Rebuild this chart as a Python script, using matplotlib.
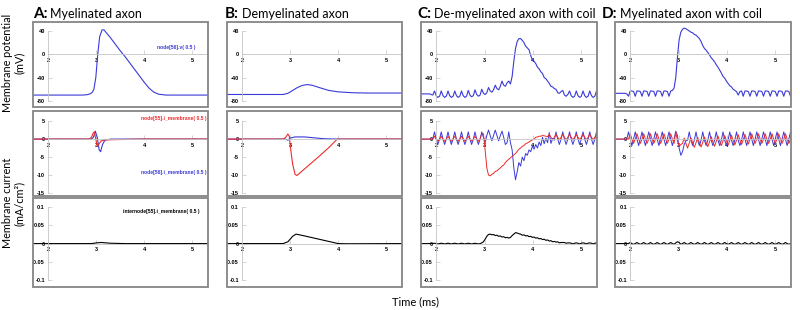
import numpy as np
import matplotlib
matplotlib.use("Agg")
import matplotlib.pyplot as plt
from matplotlib.patches import Rectangle

# ---------------- data ----------------
# Panel A (myelinated axon): time (ms) / value pairs
a_v_t = [1.68, 2.70, 2.80, 2.87, 2.92, 2.95, 2.99, 3.03, 3.07, 3.12, 3.16, 3.20, 3.30, 3.40,
         3.50, 3.60, 3.70, 3.80, 3.90, 4.00, 4.10, 4.20, 4.30, 4.45, 5.33]
a_v = [-70, -70, -69.5, -68, -65, -60, -40, 0, 30, 42, 42, 38, 28, 17,
       6, -4, -15, -26, -37, -48, -58, -65, -68.5, -70, -70]

a_i55_t = [1.68, 2.85, 2.90, 2.94, 2.96, 2.99, 3.02, 3.05, 3.10, 3.20, 3.60, 4.00, 5.33]
a_i55 = [0, 0, 0.5, 1.8, 2.0, 0, -2.0, -1.5, -0.5, -0.2, -0.1, 0, 0]
a_i56_t = [1.68, 2.90, 2.94, 2.98, 3.02, 3.06, 3.09, 3.13, 3.18, 3.30, 5.33]
a_i56 = [0, 0, 0.5, 2.2, 0.5, -3.0, -3.5, -1.5, -0.3, 0, 0]
a_inter_t = [1.68, 2.90, 3.00, 3.10, 3.30, 3.60, 5.33]
a_inter = [0, 0, 0.002, 0.003, 0.001, 0, 0]

# Panel B (demyelinated axon)
b_v_t = [1.68, 2.85, 2.95, 3.05, 3.15, 3.25, 3.35, 3.45, 3.60, 3.80, 4.00, 4.30, 4.60, 5.33]
b_v = [-69, -69, -67, -62, -57, -53.5, -52, -53, -57, -62, -64.5, -66, -66.5, -66.5]

b_i55_t = [1.68, 2.85, 2.90, 2.95, 2.98, 3.00, 3.05, 3.10, 3.14, 3.20, 3.40, 3.60, 3.80, 3.98, 5.33]
b_i55 = [0, 0, 0.4, 1.4, 0.8, -2, -7, -9.8, -10.1, -9.4, -7.1, -4.8, -2.4, 0, 0]
b_i56_t = [1.68, 2.90, 2.95, 3.00, 3.10, 3.30, 3.50, 3.70, 4.00, 5.33]
b_i56 = [0, 0, -0.3, 0.3, 0.6, 0.6, 0.35, 0.1, 0, 0]
b_inter_t = [1.68, 2.85, 2.95, 3.05, 3.12, 3.30, 3.50, 3.70, 3.90, 4.00, 4.20, 5.33]
b_inter = [0, 0, 0.005, 0.02, 0.026, 0.021, 0.015, 0.009, 0.003, 0, -0.0005, 0]

# Panels C and D (with coil): sampled every 0.035 ms from 1.68 ms,
# one row = one period of the coil ripple
coil_t0 = 1.68
coil_dt = 0.035

c_v = [-68, -68, -68, -68,
       -68, -68, -69, -70,
       -63, -71, -74, -72,
       -63, -71, -74, -72,
       -63, -71, -74, -72,
       -63, -71, -74, -72,
       -63, -71, -74, -72,
       -62, -70, -73, -71,
       -61, -69, -72, -70,
       -60, -67, -69, -66,
       -57, -63, -65, -61,
       -53, -59, -61, -55,
       -46, -53, -55, -49,
       -46, -51, -38, -12,
       10, 22, 27, 27,
       24, 20, 14, 11,
       8, -2, -10, -12,
       -16, -22, -25, -30,
       -33, -40, -42, -46,
       -50, -55, -56, -59,
       -60, -66, -67, -64,
       -62, -70, -72, -69,
       -63, -71, -74, -72,
       -63, -71, -74, -72,
       -63, -71, -74, -72,
       -63, -71, -74, -72,
       -63, -71, -74, -72]

c_i55 = [0, 0, 0, 0,
         0, 0, 0, 0,
         0.8, 0, -0.6, 0,
         0.8, 0, -0.6, 0,
         0.8, 0, -0.6, 0,
         0.8, 0, -0.6, 0,
         0.8, 0, -0.6, 0,
         0.8, 0, -0.6, 0,
         0.8, 0, -0.6, 0,
         1.4, 1.5, -3, -8,
         -10, -10.2, -9.8, -9.5,
         -9, -8.8, -8.4, -8,
         -7.5, -7.2, -6.5, -6,
         -5.6, -5.2, -4.8, -4.4,
         -4, -3.4, -2.8, -2.5,
         -2, -1.8, -1.3, -1.1,
         -0.8, -0.5, -0.2, 0,
         0.5, 0.6, 0.8, 0.8,
         1.0, 0.9, 0.8, 0.7,
         1.3, 0.5, -0.2, 0.5,
         1.3, 0.5, -0.2, 0.5,
         1.3, 0.5, -0.2, 0.5,
         1.3, 0.5, -0.2, 0.5,
         1.3, 0.5, -0.2, 0.5,
         1.3, 0.5, -0.2, 0.5,
         1.3, 0.5, -0.2, 0.5,
         1.3, 0.5, -0.2, 0.5]

c_i56 = [0, 0, 0, 0,
         0, 0, 0, 0,
         2, 0, -1.5, 0,
         2, 0, -1.5, 0,
         2, 0, -1.5, 0,
         2, 0, -1.5, 0,
         2, 0, -1.5, 0,
         2, 0, -1.5, 0,
         2, 0, -1.5, 0,
         2, 0.5, -1, 1,
         2.5, 1, -0.5, 1,
         2.5, 1, -0.5, 1,
         2.2, 0.5, -1.5, -1,
         2, -1, -3, -8,
         -11.3, -9, -6.5, -7.5,
         -5, -6, -4, -4.5,
         -3, -3.5, -2, -2.8,
         -1.5, -2.5, -0.8, -1.8,
         0.5, -1.3, 0.3, -1,
         1.8, -1.2, 0.2, -0.3,
         2, 0, -1.5, 0,
         2, 0, -1.5, 0,
         2, 0, -1.5, 0,
         2, 0, -1.5, 0,
         2, 0, -1.5, 0,
         2, 0, -1.5, 0,
         2, 0, -1.5, 0]

c_inter = [0, 0, 0, 0,
           0, 0, 0, 0,
           0.001, 0, -0.001, 0,
           0.001, 0, -0.001, 0,
           0.001, 0, -0.001, 0,
           0.001, 0, -0.001, 0,
           0.001, 0, -0.001, 0,
           0.001, 0, -0.001, 0,
           0.001, 0, -0.001, 0,
           0.002, 0.005, 0.012, 0.020,
           0.025, 0.026, 0.024, 0.025,
           0.022, 0.023, 0.020, 0.021,
           0.018, 0.019, 0.016, 0.017,
           0.015, 0.017, 0.022, 0.026,
           0.030, 0.029, 0.027, 0.026,
           0.023, 0.024, 0.021, 0.022,
           0.019, 0.020, 0.017, 0.018,
           0.015, 0.016, 0.013, 0.014,
           0.011, 0.012, 0.009, 0.010,
           0.007, 0.008, 0.005, 0.006,
           0.004, 0.005, 0.002, 0.003,
           0.003, 0.003, 0.001, 0.002,
           0.002, 0.001, -0.001, 0.001,
           0.002, 0.001, -0.001, 0.001,
           0.002, 0.001, -0.001, 0.001,
           0.002, 0.001, -0.001, 0.001,
           0.002, 0.001, -0.001, 0.001]

d_v = [-67, -67, -67, -67,
       -67, -67, -67, -68,
       -72, -63, -63, -64,
       -72, -63, -63, -64,
       -72, -63, -63, -64,
       -72, -63, -63, -64,
       -72, -63, -63, -64,
       -72, -63, -63, -64,
       -72, -63, -62, -58,
       -40, -5, 25, 38,
       43, 45, 44, 42,
       40, 38, 37, 34,
       33, 30, 27, 22,
       15, 10, 7, 3,
       -1, -6, -9, -13,
       -18, -22, -27, -32,
       -38, -41, -46, -50,
       -54, -56, -60, -62,
       -64, -70, -64, -63,
       -72, -63, -63, -64,
       -72, -63, -63, -64,
       -72, -63, -63, -64,
       -72, -63, -63, -64,
       -72, -63, -63, -64,
       -72, -63, -63, -64,
       -72, -63, -63, -64,
       -72, -63, -63, -64]

d_i55 = [0, 0, 0, 0,
         0, 0, 0, 0,
         0, 1.5, 0, -1.2,
         0, 1.5, 0, -1.2,
         0, 1.5, 0, -1.2,
         0, 1.5, 0, -1.2,
         0, 1.5, 0, -1.2,
         0, 1.5, 0, -1.2,
         0, 1.5, 0, -1.2,
         2, -0.5, -2, -1.5,
         -1.2, 0.3, -1.2, -2.5,
         -1.1, 0.4, -1.1, -2.3,
         -1.0, 0.5, -1.0, -2.2,
         -0.9, 0.6, -0.9, -2.1,
         -0.8, 0.7, -0.8, -2.0,
         -0.6, 0.9, -0.6, -1.8,
         -0.5, 1.0, -0.5, -1.7,
         -0.4, 1.1, -0.4, -1.6,
         -0.3, 1.2, -0.3, -1.5,
         -0.2, 1.3, -0.2, -1.4,
         0, 1.5, 0, -1.2,
         0, 1.5, 0, -1.2,
         0, 1.5, 0, -1.2,
         0, 1.5, 0, -1.2,
         0, 1.5, 0, -1.2,
         0, 1.5, 0, -1.2,
         0, 1.5, 0, -1.2]

d_i56 = [0, 0, 0, 0,
         0, 0, 0, 0,
         2, 0, -1.8, 0,
         2, 0, -1.8, 0,
         2, 0, -1.8, 0,
         2, 0, -1.8, 0,
         2, 0, -1.8, 0,
         2, 0, -1.8, 0,
         2, 0, -1.8, 0,
         2.2, 1, -2.5, -4.5,
         -3.5, -1.5, -0.5, -0.3,
         2, -0.3, -1.8, -0.3,
         2, -0.3, -1.8, -0.3,
         2, -0.3, -1.8, -0.3,
         2, -0.3, -1.8, -0.3,
         2, -0.3, -1.8, -0.3,
         2, -0.3, -1.8, -0.3,
         2, -0.3, -1.8, -0.3,
         2, -0.3, -1.8, -0.3,
         2, 0, -1.8, 0,
         2, 0, -1.8, 0,
         2, 0, -1.8, 0,
         2, 0, -1.8, 0,
         2, 0, -1.8, 0,
         2, 0, -1.8, 0,
         2, 0, -1.8, 0,
         2, 0, -1.8, 0]

d_inter = [0, 0, 0, 0,
           0, 0, 0, 0,
           0, 0.003, 0, -0.002,
           0, 0.003, 0, -0.002,
           0, 0.003, 0, -0.002,
           0, 0.003, 0, -0.002,
           0, 0.003, 0, -0.002,
           0, 0.003, 0, -0.002,
           0, 0.003, 0, -0.002,
           0.002, 0.005, 0.003, -0.002,
           0, 0.003, 0, -0.002,
           0, 0.003, 0, -0.002,
           0, 0.003, 0, -0.002,
           0, 0.003, 0, -0.002,
           0, 0.003, 0, -0.002,
           0, 0.003, 0, -0.002,
           0, 0.003, 0, -0.002,
           0, 0.003, 0, -0.002,
           0, 0.003, 0, -0.002,
           0, 0.003, 0, -0.002,
           0, 0.003, 0, -0.002,
           0, 0.003, 0, -0.002,
           0, 0.003, 0, -0.002,
           0, 0.003, 0, -0.002,
           0, 0.003, 0, -0.002,
           0, 0.003, 0, -0.002,
           0, 0.003, 0, -0.002]

panel_letters = ["A:", "B:", "C:", "D:"]
panel_titles = ["Myelinated axon", "Demyelinated axon",
                "De-myelinated axon with coil", "Myelinated axon with coil"]

x_ticks = [2, 3, 4, 5]
v_ticks = [-80, -40, 0, 40]
i_ticks = [-15, -10, -5, 0, 5]
inter_ticks = [-0.1, -0.05, 0, 0.05, 0.1]
inter_tick_labels = ["-0.1", "-0.05", "0", "0.05", "0.1"]

# ---------------- styling ----------------
BLUE = "#3a3ad8"
RED = "#ee2b2b"
AXIS = "#c4c4c4"
FRAME = "#858585"
title_font = "Lato"
tick_font = "Liberation Sans"

W, H = 800, 310
fig = plt.figure(figsize=(W / 100, H / 100), dpi=100)

panel_x = [(33, 208), (227, 402), (421, 597), (615, 791)]
row_y = [(22, 107), (111, 196), (198, 287)]
row_ylim = [(-90.5, 55.5), (-15.8, 7.8), (-0.119, 0.125)]
title_x = [33, 225, 417, 602]


def make_axes(px, py):
    left = px[0] / W
    bottom = 1 - py[1] / H
    return fig.add_axes([left, bottom, (px[1] - px[0]) / W, (py[1] - py[0]) / H])


def style_axes(ax, yticks, ylabels, ylim):
    ax.set_xlim(1.68, 5.33)
    ax.set_ylim(*ylim)
    ax.spines["top"].set_visible(False)
    ax.spines["right"].set_visible(False)
    ax.spines["left"].set_position(("data", 2))
    ax.spines["bottom"].set_position(("data", 0))
    ax.spines["left"].set_bounds(min(yticks), max(yticks))
    ax.spines["bottom"].set_bounds(2, 5.33)
    for s in ["left", "bottom"]:
        ax.spines[s].set_color(AXIS)
        ax.spines[s].set_linewidth(0.6)
    ax.set_xticks(x_ticks)
    ax.set_xticklabels([str(t) for t in x_ticks])
    ax.set_yticks(yticks)
    ax.set_yticklabels(ylabels)
    ax.tick_params(direction="in", length=3, width=0.5, color=AXIS,
                   labelsize=4, pad=2.5)
    for lab in ax.get_xticklabels() + ax.get_yticklabels():
        lab.set_fontfamily(tick_font)
        lab.set_fontweight("bold")
    # grey frame around the NEURON graph window
    ax.add_patch(Rectangle((0, 0), 1, 1, transform=ax.transAxes, fill=False,
                           edgecolor=FRAME, linewidth=1.3, clip_on=False, zorder=5))


coil_traces = {
    2: (c_v, c_i55, c_i56, c_inter),
    3: (d_v, d_i55, d_i56, d_inter),
}

for p in range(4):
    axes = [make_axes(panel_x[p], row_y[r]) for r in range(3)]
    style_axes(axes[0], v_ticks, [str(t) for t in v_ticks], row_ylim[0])
    style_axes(axes[1], i_ticks, [str(t) for t in i_ticks], row_ylim[1])
    style_axes(axes[2], inter_ticks, inter_tick_labels, row_ylim[2])

    if p == 0:
        axes[0].plot(a_v_t, a_v, color=BLUE, lw=0.8)
        axes[1].plot(a_i56_t, a_i56, color=BLUE, lw=0.8)
        axes[1].plot(a_i55_t, a_i55, color=RED, lw=0.8)
        axes[2].plot(a_inter_t, a_inter, color="black", lw=0.8)
        axes[0].text(5.06, 12, "node[56].v( 0.5 )", color=BLUE, fontsize=3.6,
                     fontweight="bold", family=tick_font, ha="right", va="center")
        axes[1].text(5.30, 5.6, "node[55].i_membrane( 0.5 )", color=RED, fontsize=3.6,
                     fontweight="bold", family=tick_font, ha="right", va="center")
        axes[1].text(5.30, -9.3, "node[56].i_membrane( 0.5 )", color=BLUE, fontsize=3.6,
                     fontweight="bold", family=tick_font, ha="right", va="center")
        axes[2].text(5.15, 0.088, "internode[55].i_membrane( 0.5 )", color="black",
                     fontsize=3.6, fontweight="bold", family=tick_font,
                     ha="right", va="center")
    elif p == 1:
        axes[0].plot(b_v_t, b_v, color=BLUE, lw=0.8)
        axes[1].plot(b_i56_t, b_i56, color=BLUE, lw=0.8)
        axes[1].plot(b_i55_t, b_i55, color=RED, lw=0.8)
        axes[2].plot(b_inter_t, b_inter, color="black", lw=0.8)
    else:
        v, i55, i56, inter = coil_traces[p]
        t = coil_t0 + coil_dt * np.arange(len(v))
        axes[0].plot(t, v, color=BLUE, lw=0.8)
        axes[1].plot(t, i56, color=BLUE, lw=0.7)
        axes[1].plot(t, i55, color=RED, lw=0.7)
        axes[2].plot(t, inter, color="black", lw=0.8)

# panel titles: bold letter followed by normal text
fig.canvas.draw()
renderer = fig.canvas.get_renderer()
for p in range(4):
    letter = fig.text(title_x[p] / W, 1 - 18 / H, panel_letters[p], fontsize=11,
                      fontweight="bold", family=title_font, va="baseline")
    bb = letter.get_window_extent(renderer)
    fig.text((bb.x1 + 3) / W, 1 - 18 / H, panel_titles[p], fontsize=9,
             family=title_font, va="baseline")

fig.text(13 / W, 1 - 63 / H, "Membrane potential\n(mV)", rotation=90,
         ha="center", va="center", multialignment="center", fontsize=7.8,
         family=title_font, linespacing=1.1)
fig.text(13 / W, 1 - 203 / H, "Membrane current\n(mA/cm²)", rotation=90,
         ha="center", va="center", multialignment="center", fontsize=7.8,
         family=title_font, linespacing=1.1)
fig.text(415 / W, 1 - 302 / H, "Time (ms)", ha="center", va="center",
         fontsize=8, family=title_font)

fig.savefig("out.png", dpi=100)
